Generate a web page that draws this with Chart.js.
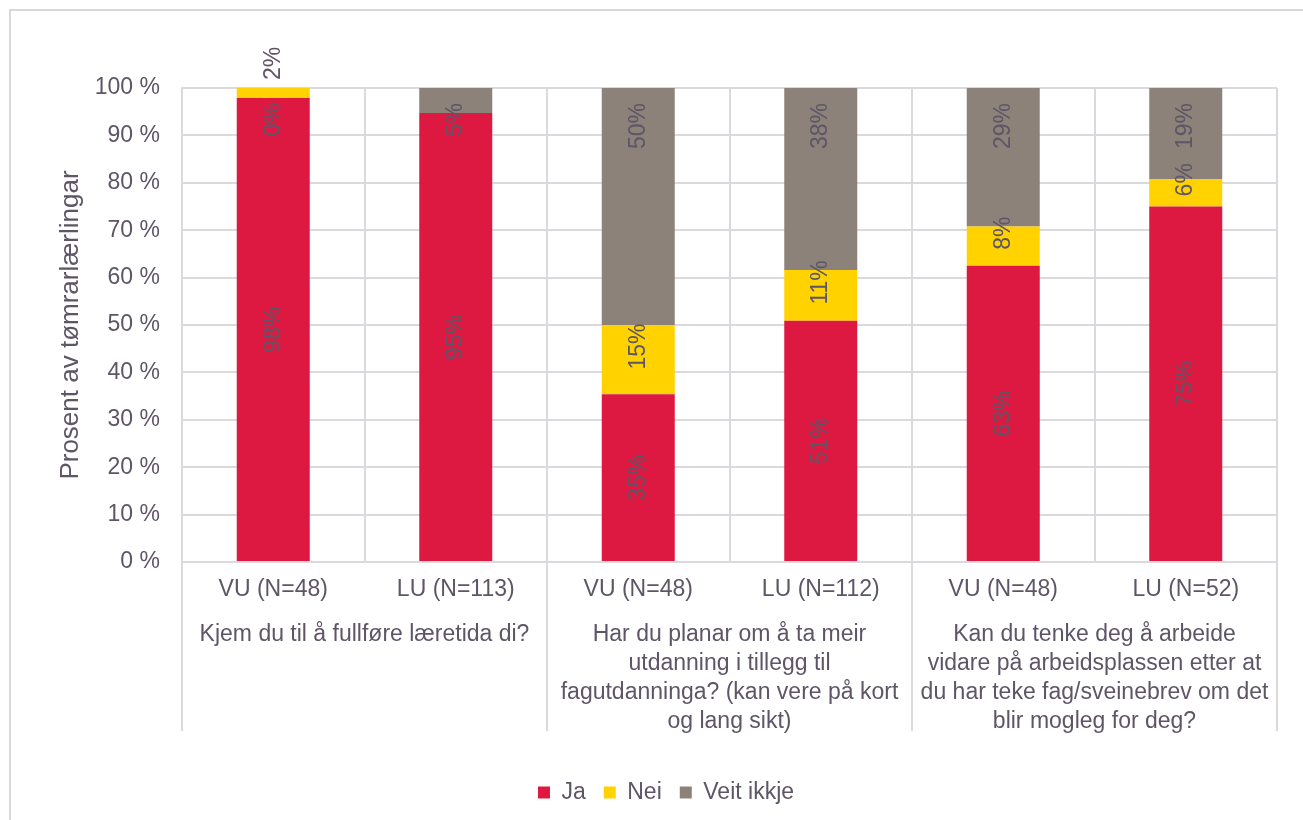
<!DOCTYPE html>
<html>
<head>
<meta charset="utf-8">
<script src="https://cdn.jsdelivr.net/npm/chart.js@4.4.1/dist/chart.umd.min.js"></script>
<style>
  html, body { margin: 0; padding: 0; background: #fff; overflow: hidden; }
  #wrap { position: relative; width: 1303px; height: 820px; }
  #frame { position: absolute; left: 9px; top: 9px; width: 1330px; height: 860px; border: 2px solid #DAD7DC; box-sizing: border-box; pointer-events: none; }
  canvas { position: absolute; left: 0; top: 0; }
</style>
</head>
<body>
<div id="wrap">
  <canvas id="chart" width="1303" height="820"></canvas>
  <div id="frame"></div>
</div>
<script>
'use strict';

// ── data ──────────────────────────────────────────────────────────────
const categories = ['VU (N=48)', 'LU (N=113)', 'VU (N=48)', 'LU (N=112)', 'VU (N=48)', 'LU (N=52)'];
const groupLabels = [
  ['Kjem du til å fullføre læretida di?'],
  ['Har du planar om å ta meir', 'utdanning i tillegg til', 'fagutdanninga? (kan vere på kort', 'og lang sikt)'],
  ['Kan du tenke deg å arbeide', 'vidare på arbeidsplassen etter at', 'du har teke fag/sveinebrev om det', 'blir mogleg for deg?'],
];
const jaValues = [97.9, 94.7, 35.4, 50.9, 62.5, 75.0];
const neiValues = [2.1, null, 14.6, 10.7, 8.3, 5.8];
const veitValues = [0, 5.3, 50.0, 38.4, 29.2, 19.2];
const seriesNames = ['Ja', 'Nei', 'Veit ikkje'];
const yTicks = [0, 10, 20, 30, 40, 50, 60, 70, 80, 90, 100];
const yTitle = 'Prosent av tømrarlærlingar';

const FONT = '"Liberation Sans", Arial, sans-serif';
const TEXT = '#5E5566';
const GRID = '#DCD9DE';
const FS = 23;

// value labels, rotated like the Excel original
const barLabels = {
  id: 'barLabels',
  afterDatasetsDraw(chart) {
    const ctx = chart.ctx;
    ctx.save();
    ctx.font = `${FS}px ${FONT}`;
    ctx.fillStyle = TEXT;
    ctx.textAlign = 'center';
    ctx.textBaseline = 'middle';
    chart.data.datasets.forEach((ds, di) => {
      chart.getDatasetMeta(di).data.forEach((bar, i) => {
        const v = ds.data[i];
        if (v == null) return;
        const txt = Math.round(v) + '%';
        const w = ctx.measureText(txt).width;
        const top = Math.min(bar.y, bar.base);
        const bottom = Math.max(bar.y, bar.base);
        let cy = (top + bottom) / 2;
        if (ds.labelPos === 'raised') {
          cy = (bottom - top < 20) ? top - 8 - w / 2 : cy - 13;
        } else if (ds.labelPos === 'end') {
          cy = top + 15 + w / 2;
        }
        ctx.save();
        ctx.translate(bar.x, cy);
        ctx.rotate(-Math.PI / 2);
        ctx.fillText(txt, 0, 0);
        ctx.restore();
      });
    });
    ctx.restore();
  }
};

// second level of the category axis (question text + separators)
const groupAxis = {
  id: 'groupAxis',
  afterDraw(chart) {
    const { ctx, chartArea, scales: { x } } = chart;
    const step = x.width / categories.length;
    const per = categories.length / groupLabels.length;
    ctx.save();
    ctx.strokeStyle = GRID;
    ctx.lineWidth = 2;
    for (let g = 0; g <= groupLabels.length; g++) {
      const px = Math.round(x.getPixelForValue(Math.min(g * per, categories.length - 1)) + (g * per >= categories.length ? step / 2 : -step / 2));
      ctx.beginPath();
      ctx.moveTo(px, chartArea.bottom);
      ctx.lineTo(px, chartArea.bottom + 169);
      ctx.stroke();
    }
    ctx.font = `${FS}px ${FONT}`;
    ctx.fillStyle = TEXT;
    ctx.textAlign = 'center';
    ctx.textBaseline = 'middle';
    groupLabels.forEach((lines, g) => {
      const cx = (x.getPixelForValue(g * per) + x.getPixelForValue(g * per + per - 1)) / 2;
      lines.forEach((ln, k) => ctx.fillText(ln, cx, chartArea.bottom + 73 + k * 29));
    });
    ctx.restore();
  }
};

new Chart(document.getElementById('chart'), {
  type: 'bar',
  data: {
    labels: categories,
    datasets: [
      { label: seriesNames[0], data: jaValues, backgroundColor: '#DE1941', labelPos: 'center' },
      { label: seriesNames[1], data: neiValues, backgroundColor: '#FFD200', labelPos: 'raised' },
      { label: seriesNames[2], data: veitValues, backgroundColor: '#8C8279', labelPos: 'end' },
    ]
  },
  options: {
    responsive: false,
    animation: false,
    devicePixelRatio: 1,
    layout: { padding: { left: 55, right: 26, top: 88, bottom: 6 } },
    datasets: { bar: { barPercentage: 0.4, categoryPercentage: 1, borderWidth: 0 } },
    plugins: {
      legend: {
        position: 'bottom',
        labels: {
          color: TEXT,
          font: { family: FONT, size: FS },
          boxWidth: 12, boxHeight: 12,
          padding: 18,
        }
      },
      tooltip: { enabled: false }
    },
    scales: {
      x: {
        stacked: true,
        grid: { color: GRID, lineWidth: 2, drawTicks: false, offset: true },
        border: { color: GRID, width: 2 },
        ticks: { color: TEXT, font: { family: FONT, size: FS }, padding: 14, maxRotation: 0, autoSkip: false },
        afterFit: s => { s.height = 201; }
      },
      y: {
        stacked: true,
        min: 0, max: 100,
        afterBuildTicks: s => { s.ticks = yTicks.map(v => ({ value: v })); },
        grid: { color: GRID, lineWidth: 2, drawTicks: false },
        border: { color: GRID, width: 2 },
        ticks: { color: TEXT, font: { family: FONT, size: FS }, padding: 22, callback: v => v + ' %' },
        title: { display: true, text: yTitle, color: TEXT, font: { family: FONT, size: 26 }, padding: { top: 0, bottom: 0 } },
        afterFit: s => { s.width = 127; }
      }
    }
  },
  plugins: [barLabels, groupAxis]
});
</script>
</body>
</html>
